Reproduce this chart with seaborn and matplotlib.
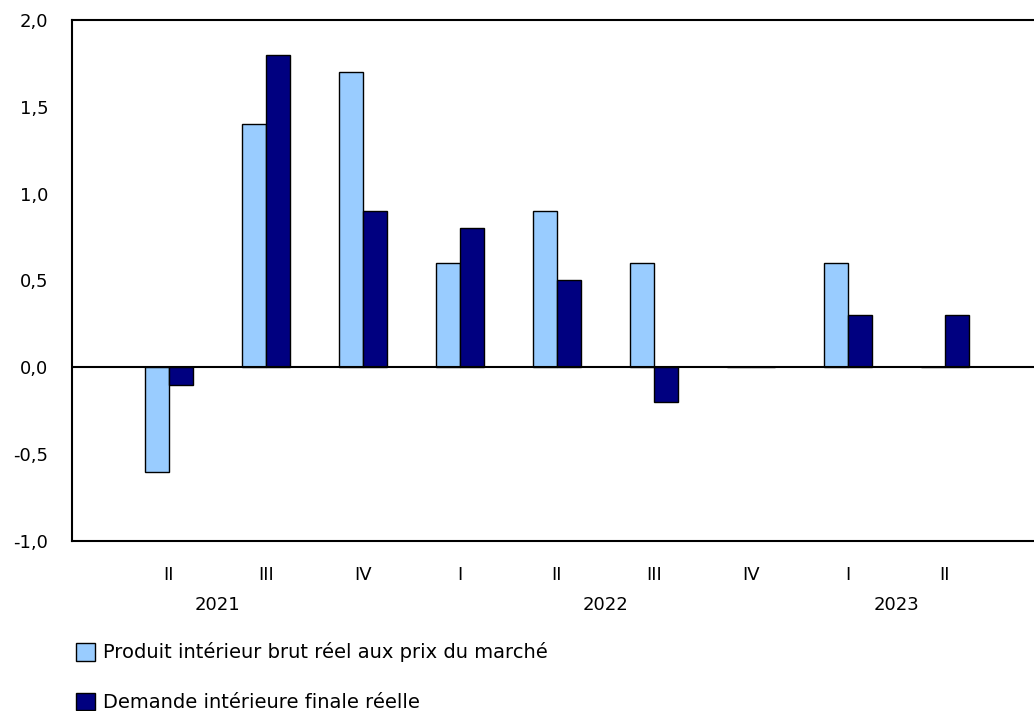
import pandas as pd
import matplotlib
matplotlib.use("Agg")
import matplotlib.pyplot as plt
import seaborn as sns
from matplotlib.patches import Patch
from matplotlib.ticker import FuncFormatter

# quarters shown on the axis
quarters = ["2021T2", "2021T3", "2021T4", "2022T1", "2022T2", "2022T3", "2022T4", "2023T1", "2023T2"]
quarter_labels = ["II", "III", "IV", "I", "II", "III", "IV", "I", "II"]
years = ["2021", "2022", "2023"]
year_pos = [0.5, 4.5, 7.5]

gdp = [-0.6, 1.4, 1.7, 0.6, 0.9, 0.6, 0.0, 0.6, 0.0]
demand = [-0.1, 1.8, 0.9, 0.8, 0.5, -0.2, 0.0, 0.3, 0.3]

series_names = ["Produit intérieur brut réel aux prix du marché", "Demande intérieure finale réelle"]
colors = ["#99CCFF", "#000080"]

df = pd.DataFrame({
    "quarter": quarters * 2,
    "value": gdp + demand,
    "series": [series_names[0]] * len(gdp) + [series_names[1]] * len(demand),
})

sns.set_style("white")
plt.rcParams["font.family"] = ["DejaVu Sans"]
plt.rcParams["font.sans-serif"] = ["DejaVu Sans"]
plt.rcParams["text.color"] = "black"
plt.rcParams["xtick.color"] = "black"
plt.rcParams["ytick.color"] = "black"

fs = 13

fig = plt.figure(figsize=(10.34, 7.11), dpi=100)
ax = fig.add_axes([0.0696, 0.239, 0.9304, 0.733])

sns.barplot(data=df, x="quarter", y="value", hue="series", order=quarters,
            hue_order=series_names, palette=colors, saturation=1, width=0.5,
            edgecolor="black", linewidth=1, legend=False, ax=ax)

ax.axhline(0, color="black", lw=1.5, zorder=5)
ax.set_xlim(-1, 8.92)
ax.set_ylim(-1.0, 2.0)
ax.set_yticks([-1.0, -0.5, 0.0, 0.5, 1.0, 1.5, 2.0])
ax.yaxis.set_major_formatter(FuncFormatter(lambda v, p: f"{v:.1f}".replace(".", ",")))
ax.set_xticks(range(len(quarters)))
ax.set_xticklabels(quarter_labels, fontsize=fs)
ax.tick_params(axis="y", direction="in", length=8, width=1.5, labelsize=fs, pad=17)
ax.tick_params(axis="x", length=0, pad=18)
ax.set_xlabel("")
ax.set_ylabel("")

for side in ["left", "bottom", "top"]:
    ax.spines[side].set_color("black")
    ax.spines[side].set_linewidth(1.5)
ax.spines["right"].set_visible(False)

for y, pos in zip(years, year_pos):
    ax.text(pos, -0.123, y, transform=ax.get_xaxis_transform(), ha="center", va="center", fontsize=fs)

handles = [Patch(facecolor=c, edgecolor="black", label=n) for c, n in zip(colors, series_names)]
fig.legend(handles=handles, loc="upper left", bbox_to_anchor=(0.057, 0.121), frameon=False,
           fontsize=14, handlelength=0.95, handleheight=1.0, handletextpad=0.4, labelspacing=1.55)

fig.savefig("out.png", dpi=100)
